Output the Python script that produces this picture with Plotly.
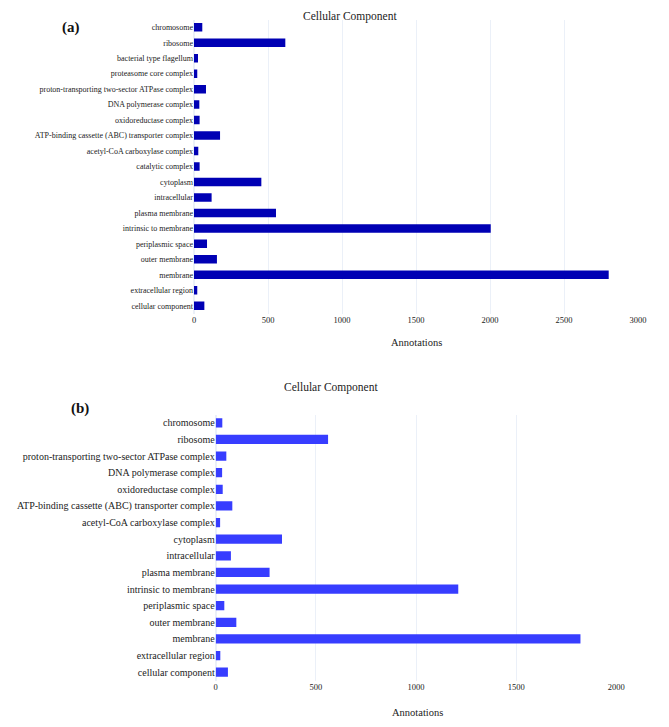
import plotly.graph_objects as go

# the page body has an 8px margin, so the figure is drawn 8px in from the window corner
OFF = 8
W, H = 669 - OFF, 727 - OFF

cats_a = ["chromosome", "ribosome", "bacterial type flagellum", "proteasome core complex",
          "proton-transporting two-sector ATPase complex", "DNA polymerase complex",
          "oxidoreductase complex", "ATP-binding cassette (ABC) transporter complex",
          "acetyl-CoA carboxylase complex", "catalytic complex", "cytoplasm", "intracellular",
          "plasma membrane", "intrinsic to membrane", "periplasmic space", "outer membrane",
          "membrane", "extracellular region", "cellular component"]
vals_a = [56, 617, 27, 22, 81, 36, 38, 176, 29, 38, 455, 119, 554, 2005, 88, 155, 2802, 22, 70]

cats_b = ["chromosome", "ribosome", "proton-transporting two-sector ATPase complex",
          "DNA polymerase complex", "oxidoreductase complex",
          "ATP-binding cassette (ABC) transporter complex", "acetyl-CoA carboxylase complex",
          "cytoplasm", "intracellular", "plasma membrane", "intrinsic to membrane",
          "periplasmic space", "outer membrane", "membrane", "extracellular region",
          "cellular component"]
vals_b = [33, 561, 53, 32, 35, 83, 22, 331, 76, 269, 1211, 43, 103, 1821, 23, 61]

x_ticks_a = [0, 500, 1000, 1500, 2000, 2500, 3000]
x_ticks_b = [0, 500, 1000, 1500, 2000]

FONT = "Liberation Serif"
TXT = "#222222"
GRID = "#ebf0f8"


def px_x(p):
    return (p - OFF) / W


def px_y(p):
    return 1 - (p - OFF) / H


fig = go.Figure()
fig.add_trace(go.Bar(x=vals_a, y=cats_a, orientation="h", marker=dict(color="#0000b4", line=dict(width=0)),
                     xaxis="x", yaxis="y", showlegend=False))
fig.add_trace(go.Bar(x=vals_b, y=cats_b, orientation="h", marker=dict(color="#373dff", line=dict(width=0)),
                     xaxis="x2", yaxis="y2", showlegend=False))

common_x = dict(showgrid=True, gridcolor=GRID, gridwidth=1, zeroline=True, zerolinecolor=GRID,
                showline=False, ticks="", automargin=False,
                tickfont=dict(family=FONT, size=8.5, color=TXT))
common_y = dict(showgrid=False, zeroline=False, showline=False, ticks="", autorange="reversed",
                categoryorder="array", automargin=False)

fig.update_layout(
    width=W, height=H,
    margin=dict(l=0, r=0, t=0, b=0, autoexpand=False),
    paper_bgcolor="white", plot_bgcolor="white",
    bargap=0.45,
    font=dict(family=FONT, color=TXT),
    xaxis=dict(domain=[px_x(194), px_x(638)], range=[0, 3000], tickvals=x_ticks_a,
               anchor="y", **common_x),
    yaxis=dict(domain=[px_y(313.5), px_y(19.5)], anchor="x", categoryarray=cats_a,
               tickfont=dict(family=FONT, size=8, color=TXT), **common_y),
    xaxis2=dict(domain=[px_x(215.7), px_x(616.3)], range=[0, 2000], tickvals=x_ticks_b,
                anchor="y2", **common_x),
    yaxis2=dict(domain=[px_y(680.5), px_y(414.5)], anchor="x2", categoryarray=cats_b,
                tickfont=dict(family=FONT, size=10, color=TXT), **common_y),
)

ann = [
    dict(text="Cellular Component", x=px_x(350), y=1.0, size=11.5, bold=False, ya="top"),
    dict(text="Annotations", x=px_x(416), y=px_y(342), size=10.5, bold=False, ya="middle"),
    dict(text="(a)", x=px_x(71), y=px_y(27), size=15, bold=True, ya="middle"),
    dict(text="Cellular Component", x=px_x(331), y=px_y(387), size=11.5, bold=False, ya="middle"),
    dict(text="Annotations", x=px_x(417), y=px_y(712), size=10.5, bold=False, ya="middle"),
    dict(text="(b)", x=px_x(80), y=px_y(408), size=15, bold=True, ya="middle"),
]
for a in ann:
    fig.add_annotation(text=("<b>%s</b>" % a["text"]) if a["bold"] else a["text"],
                       x=a["x"], y=a["y"], xref="paper", yref="paper",
                       xanchor="center", yanchor=a["ya"], showarrow=False,
                       font=dict(family=FONT, size=a["size"], color="#111111" if a["bold"] else TXT))

fig.write_html("out.html")
